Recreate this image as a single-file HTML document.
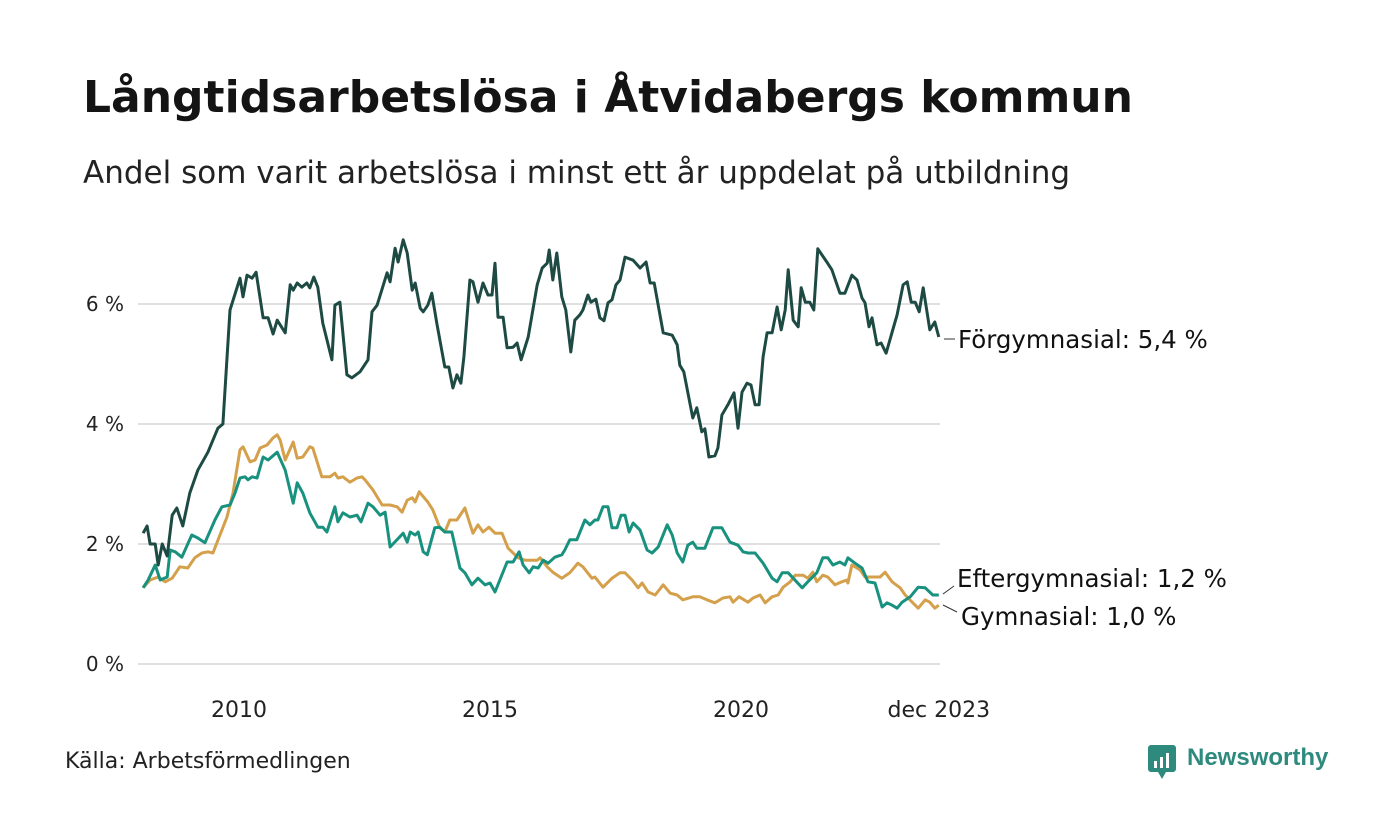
<!DOCTYPE html>
<html lang="sv"><head><meta charset="utf-8">
<style>
html,body{margin:0;padding:0;background:#fff;}
body{width:1400px;height:840px;position:relative;overflow:hidden;font-family:"DejaVu Sans","Liberation Sans",sans-serif;color:#111;}
.t{position:absolute;white-space:nowrap;}
</style></head>
<body>
<div class="t" style="left:83px;top:72px;font-size:44px;font-weight:bold;color:#141414;">Långtidsarbetslösa i Åtvidabergs kommun</div>
<div class="t" style="left:83px;top:155px;font-size:31px;color:#222;">Andel som varit arbetslösa i minst ett år uppdelat på utbildning</div>
<svg id="chart" width="1400" height="840" style="position:absolute;left:0;top:0;" xmlns="http://www.w3.org/2000/svg"></svg>
<div class="t" style="left:65px;top:749px;font-size:22px;color:#222;">Källa: Arbetsförmedlingen</div>
<div style="position:absolute;left:1148px;top:745px;height:34px;">
<svg width="30" height="34" style="position:absolute;left:0;top:0"><rect x="0" y="0" width="28" height="27" rx="3" fill="#2f8a7e"/><polygon points="10,27 14,34 18,27" fill="#2f8a7e"/><rect x="6" y="16" width="3" height="7" fill="#fff"/><rect x="12" y="12" width="3" height="11" fill="#fff"/><rect x="18" y="8" width="3" height="15" fill="#fff"/></svg>
<div class="t" style="left:39px;top:-1px;font-size:24px;font-weight:bold;color:#2f8a7e;font-family:'Liberation Sans',sans-serif;">Newsworthy</div>
</div>
<script>
const yTicks = [0, 2, 4, 6];
const yTickLabels = ["0 %", "2 %", "4 %", "6 %"];
const xTicks = [2010, 2015, 2020, 2023.94];
const xTickLabels = ["2010", "2015", "2020", "dec 2023"];
const seriesNames = ["Förgymnasial", "Eftergymnasial", "Gymnasial"];
const endLabels = ["Förgymnasial: 5,4 %", "Eftergymnasial: 1,2 %", "Gymnasial: 1,0 %"];
const forgymDates = [2008.09,2008.17,2008.23,2008.33,2008.39,2008.47,2008.57,2008.67,2008.76,2008.88,2009.02,2009.18,2009.38,2009.58,2009.68,2009.76,2009.82,2010.02,2010.08,2010.16,2010.26,2010.34,2010.48,2010.58,2010.68,2010.76,2010.92,2011.02,2011.08,2011.16,2011.25,2011.35,2011.41,2011.49,2011.57,2011.67,2011.85,2011.91,2012.01,2012.15,2012.25,2012.41,2012.57,2012.65,2012.75,2012.95,2013.01,2013.11,2013.17,2013.27,2013.35,2013.45,2013.51,2013.61,2013.67,2013.76,2013.84,2013.94,2014.10,2014.18,2014.26,2014.34,2014.42,2014.48,2014.60,2014.66,2014.76,2014.86,2014.96,2015.04,2015.10,2015.16,2015.26,2015.34,2015.46,2015.54,2015.62,2015.76,2015.94,2016.04,2016.14,2016.18,2016.25,2016.33,2016.43,2016.51,2016.61,2016.69,2016.79,2016.85,2016.95,2017.01,2017.11,2017.19,2017.27,2017.35,2017.43,2017.51,2017.59,2017.69,2017.85,2017.99,2018.11,2018.19,2018.27,2018.45,2018.63,2018.73,2018.78,2018.86,2019.04,2019.12,2019.22,2019.28,2019.36,2019.48,2019.54,2019.62,2019.74,2019.86,2019.94,2020.02,2020.12,2020.20,2020.28,2020.36,2020.44,2020.52,2020.62,2020.72,2020.80,2020.88,2020.94,2021.04,2021.14,2021.20,2021.28,2021.37,2021.45,2021.53,2021.71,2021.81,2021.97,2022.07,2022.21,2022.31,2022.41,2022.47,2022.55,2022.61,2022.71,2022.79,2022.89,2023.01,2023.11,2023.23,2023.31,2023.39,2023.47,2023.55,2023.63,2023.76,2023.86,2023.94];
const forgymValues = [2.18,2.3,2.0,2.0,1.65,2.0,1.8,2.48,2.6,2.3,2.85,3.23,3.53,3.93,4.0,5.1,5.9,6.43,6.12,6.48,6.43,6.53,5.77,5.77,5.5,5.73,5.52,6.32,6.23,6.35,6.28,6.35,6.27,6.45,6.28,5.68,5.07,5.98,6.03,4.82,4.77,4.87,5.07,5.87,5.98,6.52,6.37,6.93,6.7,7.07,6.85,6.23,6.35,5.93,5.87,5.98,6.18,5.68,4.95,4.95,4.6,4.82,4.68,5.12,6.4,6.37,6.03,6.35,6.15,6.15,6.68,5.78,5.78,5.27,5.28,5.35,5.07,5.45,6.32,6.6,6.68,6.9,6.4,6.85,6.12,5.9,5.2,5.73,5.82,5.9,6.15,6.03,6.08,5.77,5.72,6.02,6.07,6.32,6.4,6.78,6.73,6.6,6.7,6.35,6.35,5.52,5.48,5.32,4.98,4.87,4.1,4.27,3.87,3.92,3.45,3.47,3.6,4.15,4.32,4.52,3.93,4.53,4.68,4.65,4.32,4.32,5.12,5.52,5.52,5.95,5.57,5.9,6.57,5.73,5.62,6.27,6.03,6.03,5.9,6.92,6.7,6.57,6.18,6.18,6.48,6.4,6.1,6.02,5.62,5.77,5.32,5.35,5.18,5.53,5.82,6.32,6.37,6.03,6.03,5.87,6.27,5.57,5.7,5.45];
const efterDates = [2008.09,2008.19,2008.33,2008.43,2008.57,2008.63,2008.73,2008.86,2009.06,2009.18,2009.32,2009.52,2009.66,2009.82,2009.92,2010.02,2010.12,2010.18,2010.26,2010.36,2010.48,2010.58,2010.76,2010.92,2011.08,2011.16,2011.27,2011.41,2011.57,2011.67,2011.75,2011.91,2011.97,2012.07,2012.21,2012.35,2012.43,2012.57,2012.67,2012.81,2012.91,2013.01,2013.27,2013.35,2013.41,2013.51,2013.57,2013.67,2013.75,2013.90,2014.00,2014.10,2014.24,2014.40,2014.50,2014.64,2014.76,2014.90,2015.00,2015.10,2015.34,2015.46,2015.58,2015.66,2015.78,2015.86,2015.96,2016.06,2016.16,2016.29,2016.43,2016.49,2016.59,2016.73,2016.89,2016.99,2017.09,2017.15,2017.25,2017.35,2017.43,2017.53,2017.61,2017.69,2017.77,2017.85,2017.99,2018.13,2018.23,2018.35,2018.53,2018.63,2018.73,2018.84,2018.94,2019.04,2019.12,2019.28,2019.44,2019.62,2019.78,2019.94,2020.04,2020.14,2020.28,2020.44,2020.62,2020.72,2020.82,2020.94,2021.04,2021.22,2021.33,2021.51,2021.63,2021.73,2021.83,2021.97,2022.07,2022.13,2022.27,2022.41,2022.53,2022.67,2022.81,2022.91,2023.01,2023.11,2023.21,2023.37,2023.53,2023.67,2023.82,2023.94];
const efterValues = [1.27,1.4,1.65,1.4,1.45,1.9,1.87,1.78,2.15,2.1,2.02,2.4,2.62,2.65,2.85,3.1,3.12,3.07,3.12,3.1,3.45,3.4,3.53,3.23,2.68,3.02,2.85,2.52,2.28,2.28,2.2,2.62,2.37,2.52,2.45,2.48,2.37,2.68,2.62,2.48,2.53,1.95,2.18,2.03,2.2,2.15,2.2,1.87,1.82,2.27,2.28,2.2,2.2,1.6,1.52,1.32,1.43,1.32,1.35,1.2,1.7,1.7,1.87,1.65,1.52,1.62,1.6,1.73,1.68,1.78,1.82,1.9,2.07,2.07,2.4,2.32,2.4,2.4,2.62,2.62,2.27,2.27,2.48,2.48,2.2,2.35,2.23,1.9,1.85,1.95,2.32,2.15,1.85,1.7,1.98,2.03,1.93,1.93,2.27,2.27,2.03,1.98,1.87,1.85,1.85,1.68,1.43,1.37,1.52,1.52,1.43,1.27,1.37,1.52,1.77,1.77,1.65,1.7,1.65,1.77,1.68,1.6,1.37,1.35,0.95,1.02,0.98,0.93,1.03,1.12,1.28,1.27,1.15,1.15];
const gymDates = [2008.09,2008.23,2008.39,2008.53,2008.67,2008.82,2008.98,2009.12,2009.26,2009.38,2009.48,2009.56,2009.76,2009.88,2010.02,2010.08,2010.22,2010.32,2010.42,2010.56,2010.68,2010.76,2010.82,2010.92,2011.08,2011.16,2011.27,2011.41,2011.47,2011.65,2011.81,2011.91,2011.97,2012.07,2012.21,2012.35,2012.45,2012.51,2012.67,2012.85,2013.01,2013.15,2013.25,2013.35,2013.45,2013.51,2013.59,2013.76,2013.86,2014.00,2014.10,2014.20,2014.34,2014.50,2014.66,2014.76,2014.86,2014.98,2015.10,2015.24,2015.36,2015.56,2015.70,2015.94,2016.00,2016.14,2016.25,2016.43,2016.59,2016.75,2016.85,2017.03,2017.09,2017.25,2017.43,2017.59,2017.69,2017.83,2017.95,2018.03,2018.15,2018.29,2018.45,2018.59,2018.73,2018.84,2019.04,2019.18,2019.32,2019.48,2019.64,2019.78,2019.84,2019.96,2020.14,2020.24,2020.38,2020.48,2020.62,2020.74,2020.84,2020.98,2021.08,2021.24,2021.33,2021.43,2021.51,2021.63,2021.73,2021.87,2022.01,2022.11,2022.13,2022.21,2022.37,2022.47,2022.77,2022.87,2023.01,2023.17,2023.27,2023.41,2023.53,2023.67,2023.76,2023.86,2023.94];
const gymValues = [1.27,1.4,1.45,1.37,1.43,1.62,1.6,1.77,1.85,1.87,1.85,2.02,2.45,2.85,3.57,3.62,3.37,3.4,3.6,3.65,3.77,3.82,3.73,3.4,3.7,3.43,3.45,3.62,3.6,3.12,3.12,3.18,3.1,3.12,3.03,3.1,3.12,3.07,2.9,2.65,2.65,2.62,2.53,2.73,2.77,2.7,2.87,2.7,2.57,2.27,2.2,2.4,2.4,2.6,2.18,2.32,2.2,2.28,2.18,2.18,1.93,1.77,1.73,1.73,1.77,1.62,1.53,1.43,1.52,1.68,1.62,1.43,1.45,1.28,1.43,1.52,1.52,1.4,1.27,1.35,1.2,1.15,1.32,1.18,1.15,1.07,1.12,1.12,1.07,1.02,1.1,1.12,1.03,1.12,1.03,1.1,1.15,1.02,1.12,1.15,1.28,1.37,1.48,1.48,1.43,1.53,1.37,1.48,1.45,1.32,1.37,1.4,1.35,1.65,1.57,1.45,1.45,1.53,1.37,1.27,1.15,1.03,0.93,1.07,1.03,0.93,0.98];

const svg = document.getElementById('chart');
const NS = 'http://www.w3.org/2000/svg';
const FONT = 'DejaVu Sans, Liberation Sans, sans-serif';
const xScale = d => 239 + (d - 2010) * 50.2;
const yScale = v => 664 - v * 60;
function mk(tag, attrs) { const e = document.createElementNS(NS, tag); for (const k in attrs) e.setAttribute(k, attrs[k]); svg.appendChild(e); return e; }

yTicks.forEach((t, i) => {
  const g = mk('line', {x1:138, x2:940, y1:yScale(t), y2:yScale(t), stroke:'#e0e0e0', 'stroke-width':2});
  
  
  const l = mk('text', {x:124, y:yScale(t)+7, 'text-anchor':'end', 'font-size':20, fill:'#222', 'font-family':FONT});
  l.textContent = yTickLabels[i];
  
  
});
xTicks.forEach((t, i) => {
  const l = mk('text', {x:xScale(t), y:717, 'text-anchor':'middle', 'font-size':22, fill:'#222', 'font-family':FONT});
  l.textContent = xTickLabels[i];
  
  
});

const series = [
  {dates: gymDates, values: gymValues, color: '#d4a04c', name: 'gymnasial'},
  {dates: efterDates, values: efterValues, color: '#19917f', name: 'eftergymnasial'},
  {dates: forgymDates, values: forgymValues, color: '#1e4a44', name: 'forgymnasial'}
];
series.forEach(s => {
  const d = s.dates.map((t, i) => (i ? 'L' : 'M') + xScale(t).toFixed(1) + ',' + yScale(s.values[i]).toFixed(1)).join(' ');
  const p = mk('path', {d: d, fill:'none', stroke:s.color, 'stroke-width':3, 'stroke-linejoin':'round'});
  
  
});

const labelPos = [[958, 348, 944, 339, 955, 339], [957, 587, 943, 594, 954, 586], [961, 625, 943, 605, 957, 612]];
endLabels.forEach((txt, i) => {
  const lp = labelPos[i];
  const c = mk('line', {x1:lp[2], y1:lp[3], x2:lp[4], y2:lp[5], stroke:'#333', 'stroke-width':1});
  
  
  const l = mk('text', {x:lp[0], y:lp[1], 'font-size':24.5, fill:'#111', 'font-family':FONT});
  l.textContent = txt;
  
  
});
</script>
</body></html>
